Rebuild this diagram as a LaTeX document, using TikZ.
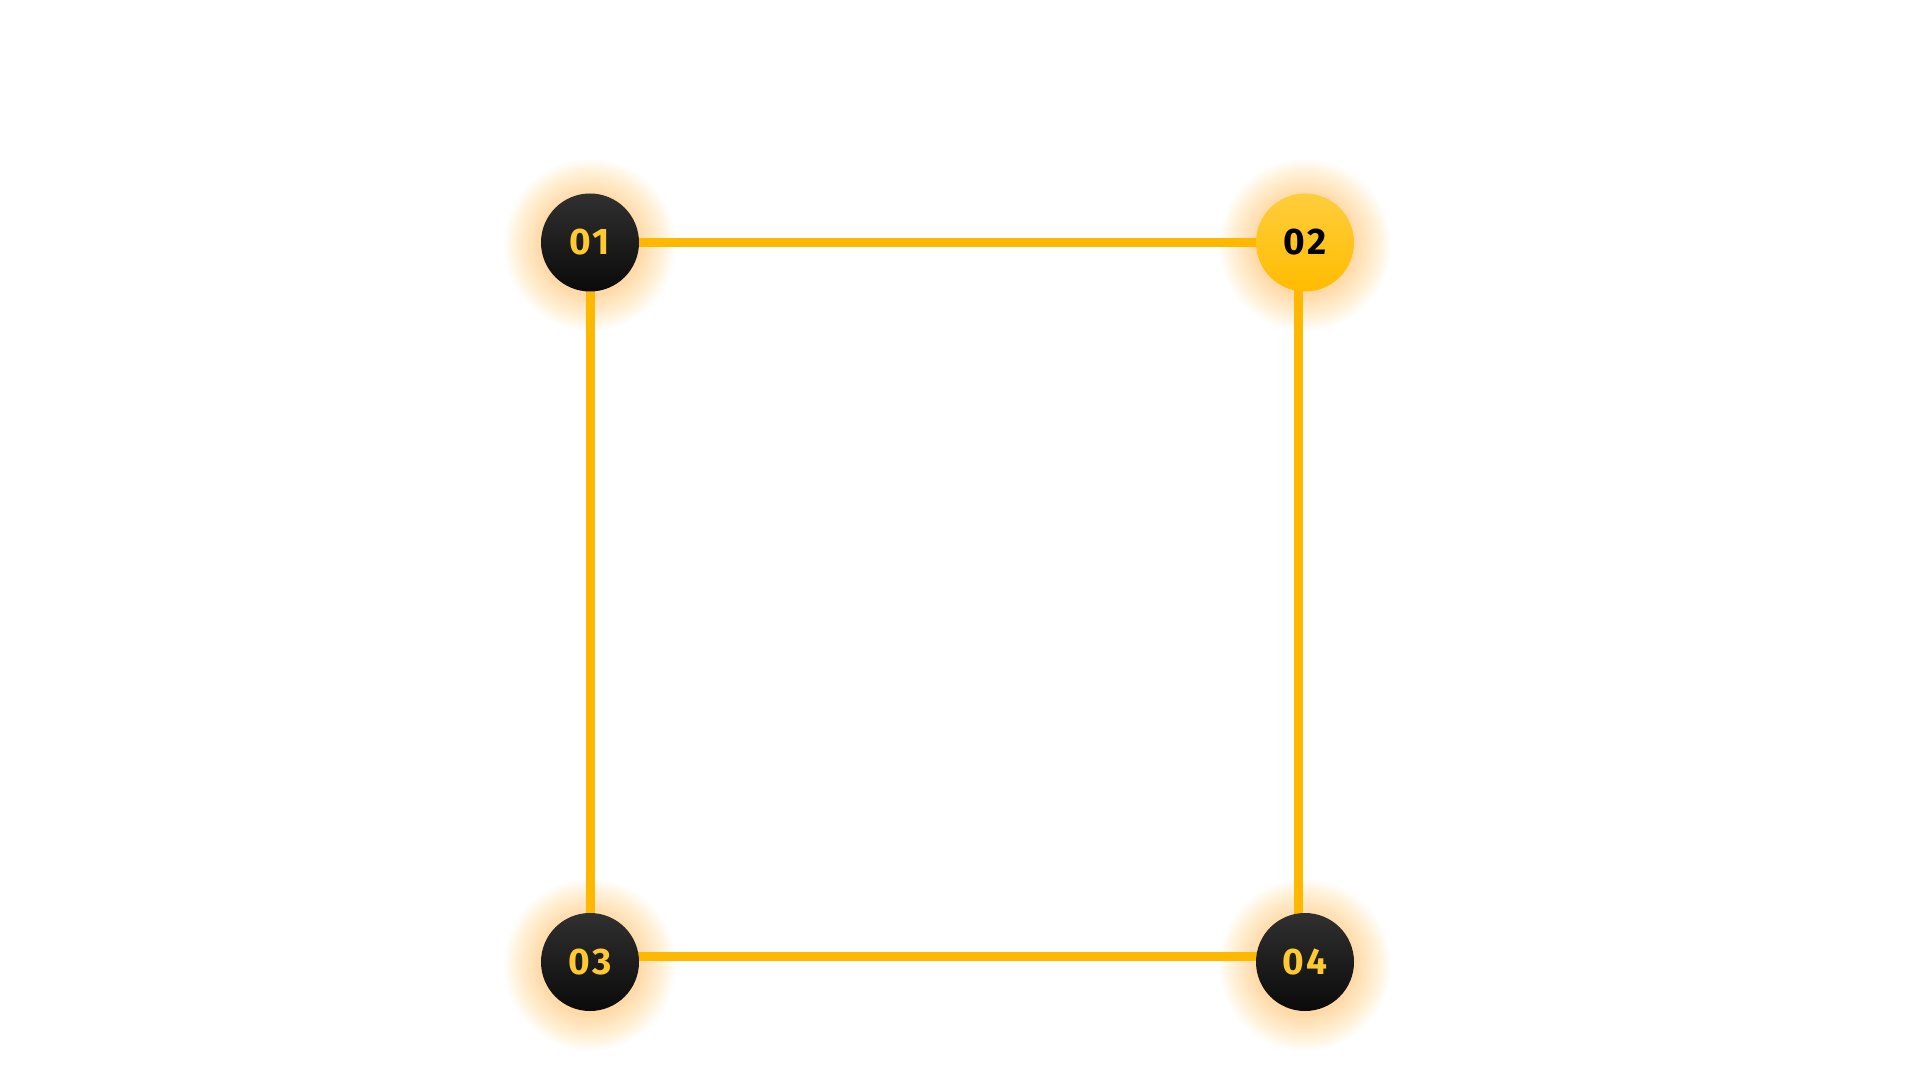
\documentclass[tikz,border=0pt]{standalone}
\usepackage{fontspec}
\newfontfamily\numfont{Fira Sans}[LetterSpace=6]
\usetikzlibrary{calc}
\definecolor{lineY}{HTML}{FFB800}
\definecolor{txtY}{HTML}{FFC933}
\definecolor{glowY}{HTML}{FFCC30}
\definecolor{darkTop}{HTML}{2F302F}
\definecolor{darkBot}{HTML}{0A0A0A}
\definecolor{yTop}{HTML}{FFCD3C}
\definecolor{yBot}{HTML}{FFBC00}
\tikzset{
  stepnode/.style={circle, minimum size=49pt, inner sep=0pt, shading=axis,
    font=\numfont\bfseries\fontsize{18.5}{18.5}\selectfont},
  darknode/.style={stepnode, top color=darkTop, bottom color=darkBot, text=txtY},
  brightnode/.style={stepnode, top color=yTop, bottom color=yBot, text=black},
  link/.style={draw=lineY, line width=4.5pt}
}
\begin{document}
\begin{tikzpicture}[x=0.5pt,y=-0.5pt]
\useasboundingbox (0,0) rectangle (1920,1080);
\fill[white] (0,0) rectangle (1920,1080);
% glows
\foreach \p in {(590,245),(1305,245),(590,965),(1305,965)}{
  \foreach \r in {49,50,...,86}{
    \fill[glowY, fill opacity=0.011] \p circle (\r);
  }
}
\coordinate (c1) at (590,242.5);
\coordinate (c2) at (1305,242.5);
\coordinate (c3) at (590,962);
\coordinate (c4) at (1305,962);
% connectors (behind nodes)
\draw[link] (c1) -- (c2);
\draw[link] (c1) -- (c3);
\draw[link] ($(c2)+(-7,0)$) -- ($(c4)+(-7,0)$);
\draw[link] ($(c3)+(0,-6)$) -- ($(c4)+(0,-6)$);
% nodes
\node[darknode] (n1) at (c1) {01};
\node[brightnode] (n2) at (c2) {02};
\node[darknode] (n3) at (c3) {03};
\node[darknode] (n4) at (c4) {04};
\end{tikzpicture}
\end{document}
